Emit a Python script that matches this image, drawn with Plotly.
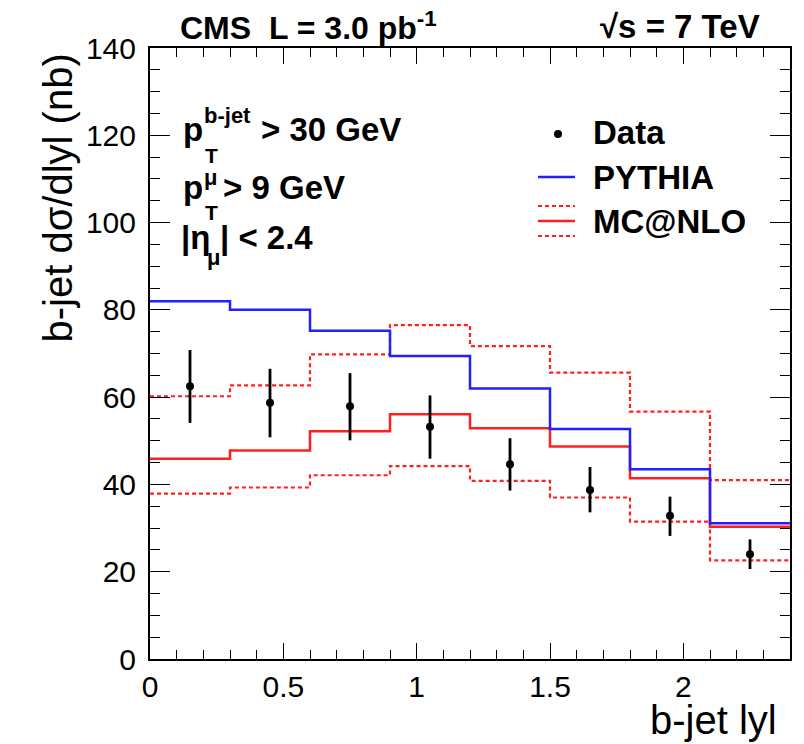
import plotly.graph_objects as go

# ---------------- data ----------------
bin_edges = [0.0, 0.3, 0.6, 0.9, 1.2, 1.5, 1.8, 2.1, 2.4]
bin_centers = [0.15, 0.45, 0.75, 1.05, 1.35, 1.65, 1.95, 2.25]
data_values = [62.5, 58.7, 57.9, 53.2, 44.6, 38.7, 32.8, 24.0]
data_err_up = [8.3, 7.8, 7.6, 7.2, 6.0, 5.3, 4.4, 3.4]
data_err_down = [8.4, 7.9, 7.8, 7.3, 6.0, 5.1, 4.6, 3.4]
pythia_values = [82.0, 80.0, 75.2, 69.4, 62.0, 52.7, 43.5, 31.1]
mcnlo_values = [45.9, 47.8, 52.2, 56.1, 52.9, 48.7, 41.4, 30.3]
mcnlo_upper = [60.2, 62.7, 69.8, 76.5, 71.7, 65.6, 56.7, 41.0]
mcnlo_lower = [37.9, 39.3, 42.1, 44.2, 40.8, 37.0, 31.5, 22.6]
x_ticks = [0, 0.5, 1, 1.5, 2]
x_tick_labels = ["0", "0.5", "1", "1.5", "2"]
y_ticks = [0, 20, 40, 60, 80, 100, 120, 140]
y_tick_labels = ["0", "20", "40", "60", "80", "100", "120", "140"]

FONT = "Liberation Sans, Arial, Helvetica, sans-serif"
W, H = 804, 744
L, R, T, B = 150, 14, 48, 85
PW, PH = W - L - R, H - T - B


def px(x):
    return (x - L) / PW


def py(y):
    return (H - B - y) / PH


def step(vals):
    return list(vals) + [vals[-1]]


fig = go.Figure()

BLUE = "#1f1fff"
RED = "#ff1f1f"

fig.add_trace(go.Scatter(x=bin_edges, y=step(mcnlo_upper), mode="lines", line_shape="hv",
                         line=dict(color=RED, width=2.2, dash="4px,3px"), showlegend=False))
fig.add_trace(go.Scatter(x=bin_edges, y=step(mcnlo_lower), mode="lines", line_shape="hv",
                         line=dict(color=RED, width=2.2, dash="4px,3px"), showlegend=False))
fig.add_trace(go.Scatter(x=bin_edges, y=step(mcnlo_values), mode="lines", line_shape="hv",
                         line=dict(color=RED, width=2.5), showlegend=False))
fig.add_trace(go.Scatter(x=bin_edges, y=step(pythia_values), mode="lines", line_shape="hv",
                         line=dict(color=BLUE, width=2.5), showlegend=False))
fig.add_trace(go.Scatter(x=bin_centers, y=data_values, mode="markers",
                         marker=dict(color="black", size=8),
                         error_y=dict(type="data", symmetric=False, array=data_err_up,
                                      arrayminus=data_err_down, color="black",
                                      thickness=2.8, width=0),
                         showlegend=False))

axis_common = dict(showline=True, linecolor="black", linewidth=2, mirror="ticks",
                   ticks="inside", tickcolor="black", tickwidth=1.3,
                   showgrid=False, zeroline=False,
                   tickfont=dict(family=FONT, size=30, color="black"))

fig.update_xaxes(range=[0, 2.4], tickvals=x_ticks, ticktext=x_tick_labels, ticklen=16,
                 minor=dict(dtick=0.1, ticklen=9, ticks="inside", tickcolor="black", tickwidth=1.3),
                 **axis_common)
fig.update_yaxes(range=[0, 140], tickvals=y_ticks, ticktext=y_tick_labels, ticklen=20,
                 minor=dict(dtick=5, ticklen=10, ticks="inside", tickcolor="black", tickwidth=1.3),
                 ticklabelstandoff=6,
                 **axis_common)

ann = []


def text(x, y, s, size, bold=True, anchor="left"):
    ann.append(dict(x=px(x), y=py(y), xref="paper", yref="paper", text=s, showarrow=False,
                    xanchor=anchor, yanchor="middle",
                    font=dict(family=FONT, size=size, color="black",
                              weight="bold" if bold else "normal")))


# header
text(178, 26, "CMS  L = 3.0 pb<sup>-1</sup>", 32)
text(762, 26, "√s = 7 TeV", 33, anchor="right")

# cuts
text(181, 130, "p", 33)
text(202, 116, "b-jet", 22)
text(203, 155, "T", 21)
text(259, 130, "> 30 GeV", 33)

text(181, 187, "p", 33)
text(202, 177, "μ", 22)
text(203, 212, "T", 21)
text(221, 187, "> 9 GeV", 33)

text(179, 237, "|η", 33)
text(205, 257, "μ", 22)
text(218, 237, "| < 2.4", 33)

# legend
text(591, 132, "Data", 33)
text(591, 177, "PYTHIA", 33)
text(591, 221, "MC@NLO", 33)

# axis titles
ann.append(dict(x=px(57), y=py(52), xref="paper", yref="paper", text="b-jet dσ/dlyl (nb)",
                showarrow=False, textangle=-90, xanchor="center", yanchor="top",
                font=dict(family=FONT, size=40, color="black")))
ann.append(dict(x=px(779), y=py(720), xref="paper", yref="paper", text="b-jet lyl",
                showarrow=False, xanchor="right", yanchor="middle",
                font=dict(family=FONT, size=40, color="black")))

shapes = [
    dict(type="circle", xref="paper", yref="paper", xsizemode="pixel", ysizemode="pixel",
         xanchor=px(558), yanchor=py(134), x0=-4, x1=4, y0=-4, y1=4,
         fillcolor="black", line=dict(width=0)),
    dict(type="line", xref="paper", yref="paper", x0=px(538), x1=px(575), y0=py(177), y1=py(177),
         line=dict(color=BLUE, width=2.5)),
    dict(type="line", xref="paper", yref="paper", x0=px(538), x1=px(575), y0=py(221), y1=py(221),
         line=dict(color=RED, width=2.5)),
    dict(type="line", xref="paper", yref="paper", x0=px(538), x1=px(575), y0=py(206), y1=py(206),
         line=dict(color=RED, width=2.2, dash="4px,3px")),
    dict(type="line", xref="paper", yref="paper", x0=px(538), x1=px(575), y0=py(236), y1=py(236),
         line=dict(color=RED, width=2.2, dash="4px,3px")),
]

fig.update_layout(width=W, height=H, margin=dict(l=L, r=R, t=T, b=B),
                  paper_bgcolor="white", plot_bgcolor="white",
                  annotations=ann, shapes=shapes, showlegend=False)

fig.write_html("out.html")
